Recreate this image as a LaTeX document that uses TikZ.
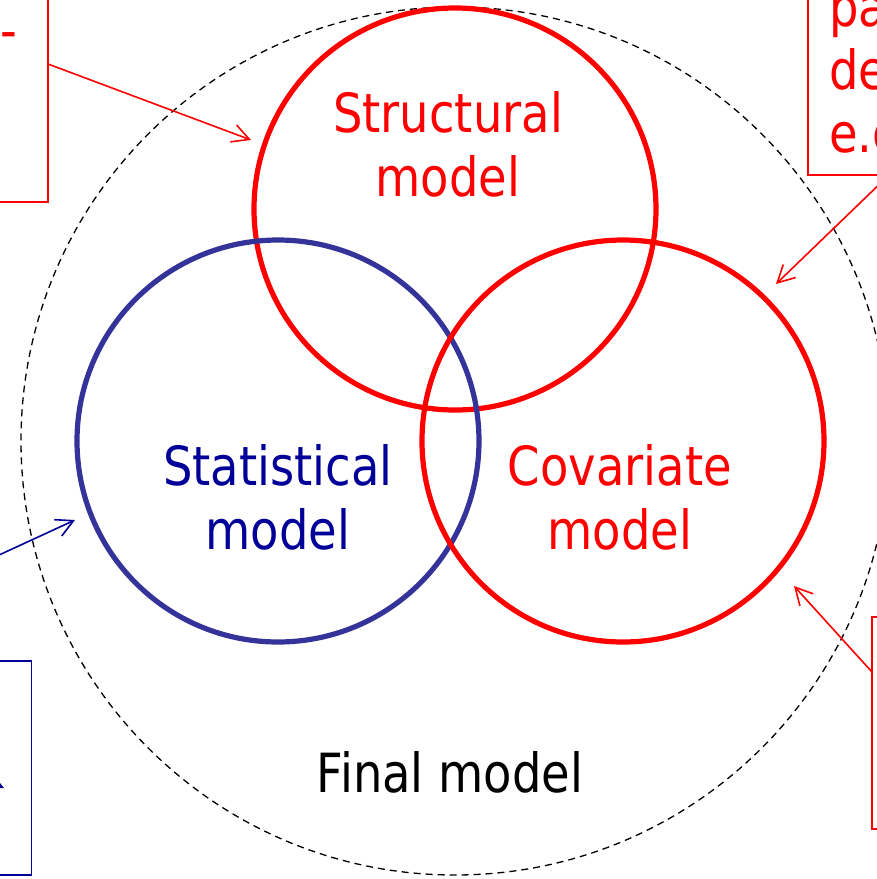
\documentclass[tikz,border=0pt]{standalone}
\usepackage{fontspec}
\setmainfont{DejaVu Sans}[FakeStretch=0.86]
\usetikzlibrary{arrows.meta}
\definecolor{pptred}{RGB}{255,0,0}
\definecolor{circblue}{RGB}{51,51,153}
\definecolor{navy}{RGB}{0,0,153}
\begin{document}
\begin{tikzpicture}[x=1pt,y=-1pt,
  venn/.style={circle, draw, line width=5.2pt, minimum size=402pt, inner sep=0pt},
  lbl/.style={font=\fontsize{54}{64}\selectfont, align=center, inner sep=0pt},
  boxtext/.style={font=\fontsize{54}{64}\selectfont, inner sep=0pt, anchor=base west},
  callout/.style={draw, line width=1.6pt, rectangle, inner sep=0pt},
  arr/.style={line width=1.6pt, -{Straight Barb[length=17pt,width=18pt,line width=1.6pt]}},
  finalring/.style={circle, draw, line width=1.3pt, dash pattern=on 7pt off 5pt, minimum size=868pt, inner sep=0pt},
]
\useasboundingbox (0,0) rectangle (877,879);
\fill[white] (0,0) rectangle (877,879);
\clip (0,0) rectangle (877,879);

% outer dashed ring
\node[finalring] (final) at (455,441) {};

% Venn circles
\node[venn, draw=pptred] (structural) at (455,209) {};
\node[venn, draw=circblue] (statistical) at (278,441) {};
\node[venn, draw=pptred] (covariate) at (623,441) {};

% labels
\node[lbl, text=pptred] (structlbl) at (448,144) {Structural\\model};
\node[lbl, text=navy] (statlbl) at (278,497) {Statistical\\model};
\node[lbl, text=pptred] (covlbl) at (620,497) {Covariate\\model};
\node[font=\fontsize{54}{64}\selectfont, inner sep=0pt, anchor=base] (finallbl) at (450,792) {Final model};

% callout boxes (partly outside the picture)
\node[callout, draw=pptred, minimum width=448pt, minimum height=252pt] (tlbox) at (-176,76) {};
\node[boxtext, text=pptred] (tltext) at (0,49) {-};

\node[callout, draw=pptred, minimum width=400pt, minimum height=225pt] (trbox) at (1008,62.5) {};
\node[boxtext, text=pptred] (trA) at (829,26) {pa};
\node[boxtext, text=pptred] (trB) at (829,89) {de};
\node[boxtext, text=pptred] (trC) at (829,152) {e.g};

\node[callout, draw=navy, minimum width=431pt, minimum height=214pt] (blbox) at (-184,768) {};
\fill[navy] (0,783) -- (4,788) -- (0,788) -- cycle;

\node[callout, draw=pptred, minimum width=400pt, minimum height=212pt] (brbox) at (1072,723) {};

% connectors
\coordinate (a1s) at (48,64);
\coordinate (a1e) at (251,140);
\coordinate (a2s) at (889,175);
\coordinate (a2e) at (776,284);
\coordinate (a3s) at (-40,573);
\coordinate (a3e) at (75,520);
\coordinate (a4s) at (872,672);
\coordinate (a4e) at (794,586);
\draw[arr, pptred] (a1s) -- (a1e);
\draw[arr, pptred] (a2s) -- (a2e);
\draw[arr, navy] (a3s) -- (a3e);
\draw[arr, pptred] (a4s) -- (a4e);
\end{tikzpicture}
\end{document}
